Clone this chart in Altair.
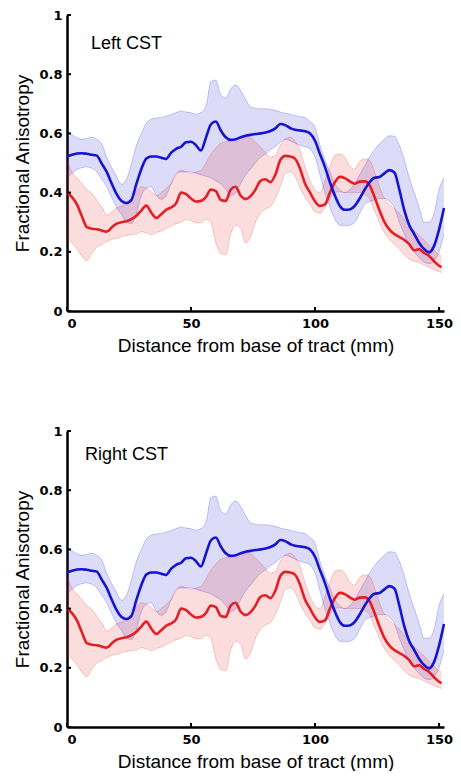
import altair as alt
import pandas as pd

# ---- data (distance in mm, FA values) ----
blue_mm = list(range(0, 153, 2))
blue_mean = [0.522, 0.528, 0.532, 0.533, 0.531, 0.528, 0.525, 0.498, 0.470, 0.431,
             0.395, 0.372, 0.365, 0.376, 0.430, 0.480, 0.515, 0.522, 0.522, 0.518,
             0.514, 0.535, 0.548, 0.555, 0.570, 0.572, 0.560, 0.542, 0.585, 0.630,
             0.640, 0.610, 0.587, 0.578, 0.580, 0.587, 0.592, 0.595, 0.598, 0.600,
             0.603, 0.608, 0.617, 0.632, 0.628, 0.618, 0.612, 0.610, 0.607, 0.600,
             0.575, 0.530, 0.487, 0.435, 0.390, 0.355, 0.342, 0.343, 0.355, 0.380,
             0.410, 0.435, 0.450, 0.453, 0.465, 0.476, 0.468, 0.410, 0.340, 0.290,
             0.260, 0.230, 0.209, 0.198, 0.220, 0.275, 0.348]
blue_hi = [0.603, 0.595, 0.585, 0.580, 0.583, 0.587, 0.580, 0.564, 0.520, 0.485,
           0.455, 0.428, 0.445, 0.498, 0.560, 0.600, 0.635, 0.648, 0.652, 0.654,
           0.658, 0.664, 0.670, 0.676, 0.672, 0.670, 0.665, 0.670, 0.690, 0.775,
           0.780, 0.730, 0.720, 0.750, 0.764, 0.745, 0.715, 0.690, 0.685, 0.683,
           0.683, 0.681, 0.678, 0.672, 0.668, 0.665, 0.660, 0.656, 0.653, 0.640,
           0.620, 0.560, 0.510, 0.470, 0.430, 0.410, 0.400, 0.410, 0.430, 0.460,
           0.490, 0.520, 0.545, 0.565, 0.580, 0.592, 0.590, 0.560, 0.510, 0.450,
           0.400, 0.350, 0.300, 0.300, 0.330, 0.410, 0.450]
blue_lo = [0.448, 0.465, 0.478, 0.484, 0.487, 0.482, 0.470, 0.445, 0.420, 0.385,
           0.350, 0.325, 0.300, 0.295, 0.330, 0.390, 0.415, 0.420, 0.390, 0.377,
           0.390, 0.430, 0.465, 0.470, 0.470, 0.470, 0.465, 0.460, 0.455, 0.450,
           0.440, 0.430, 0.410, 0.390, 0.400, 0.430, 0.460, 0.480, 0.500, 0.520,
           0.530, 0.545, 0.555, 0.570, 0.580, 0.575, 0.567, 0.560, 0.555, 0.547,
           0.520, 0.460, 0.400, 0.350, 0.310, 0.290, 0.288, 0.290, 0.300, 0.330,
           0.360, 0.370, 0.375, 0.380, 0.380, 0.370, 0.350, 0.300, 0.260, 0.220,
           0.200, 0.180, 0.165, 0.160, 0.170, 0.200, 0.260]

red_mm = list(range(0, 151, 2)) + [151]
red_mean = [0.400, 0.385, 0.360, 0.320, 0.283, 0.278, 0.276, 0.272, 0.268, 0.282,
            0.295, 0.300, 0.303, 0.310, 0.322, 0.340, 0.356, 0.332, 0.314, 0.327,
            0.342, 0.350, 0.364, 0.400, 0.395, 0.380, 0.370, 0.372, 0.385, 0.410,
            0.405, 0.375, 0.372, 0.410, 0.420, 0.390, 0.378, 0.388, 0.410, 0.440,
            0.445, 0.435, 0.460, 0.510, 0.524, 0.522, 0.514, 0.480, 0.430, 0.400,
            0.370, 0.355, 0.360, 0.400, 0.435, 0.453, 0.449, 0.438, 0.430, 0.437,
            0.438, 0.425, 0.385, 0.340, 0.300, 0.275, 0.260, 0.250, 0.240, 0.226,
            0.205, 0.209, 0.196, 0.186, 0.168, 0.153, 0.148]
red_hi = [0.510, 0.470, 0.450, 0.431, 0.410, 0.398, 0.375, 0.353, 0.325, 0.335,
          0.348, 0.355, 0.362, 0.380, 0.405, 0.420, 0.415, 0.403, 0.390, 0.400,
          0.415, 0.431, 0.460, 0.476, 0.470, 0.465, 0.470, 0.475, 0.500, 0.530,
          0.550, 0.567, 0.572, 0.576, 0.580, 0.583, 0.586, 0.585, 0.570, 0.555,
          0.535, 0.520, 0.525, 0.560, 0.581, 0.587, 0.573, 0.540, 0.487, 0.440,
          0.410, 0.400, 0.440, 0.487, 0.525, 0.530, 0.520, 0.490, 0.480, 0.505,
          0.514, 0.509, 0.470, 0.420, 0.380, 0.360, 0.345, 0.331, 0.310, 0.287,
          0.270, 0.255, 0.240, 0.222, 0.205, 0.190, 0.185]
red_lo = [0.240, 0.230, 0.210, 0.185, 0.170, 0.195, 0.215, 0.225, 0.235, 0.242,
          0.245, 0.252, 0.255, 0.258, 0.260, 0.268, 0.264, 0.258, 0.265, 0.270,
          0.278, 0.287, 0.295, 0.300, 0.310, 0.305, 0.298, 0.298, 0.310, 0.300,
          0.230, 0.195, 0.190, 0.260, 0.290, 0.280, 0.230, 0.250, 0.300, 0.330,
          0.345, 0.353, 0.380, 0.420, 0.465, 0.470, 0.453, 0.415, 0.385, 0.360,
          0.335, 0.330, 0.350, 0.380, 0.400, 0.403, 0.400, 0.400, 0.400, 0.400,
          0.395, 0.380, 0.340, 0.298, 0.265, 0.242, 0.225, 0.209, 0.190, 0.176,
          0.168, 0.164, 0.155, 0.148, 0.140, 0.133, 0.130]

y_ticks = [0, 0.2, 0.4, 0.6, 0.8, 1]
x_ticks = [0, 50, 100, 150]
panel_titles = ["Left CST", "Right CST"]

BLUE = "#1414d2"
RED = "#e41e24"
W, H = 377, 296

blue_df = pd.DataFrame({"mm": blue_mm, "mean": blue_mean, "lo": blue_lo, "hi": blue_hi})
red_df = pd.DataFrame({"mm": red_mm, "mean": red_mean, "lo": red_lo, "hi": red_hi})

xs = alt.Scale(domain=[0, 152], nice=False, zero=False)
ys = alt.Scale(domain=[0, 1], nice=False)

X = alt.X("mm:Q", scale=xs, title="Distance from base of tract (mm)",
          axis=alt.Axis(values=x_ticks, format="d"))


def Y(f):
    return alt.Y(f"{f}:Q", scale=ys, title="Fractional Anisotropy",
                 axis=alt.Axis(values=y_ticks, format="~g"))


def band(df, color):
    area = alt.Chart(df).mark_area(color=color, opacity=0.15, interpolate="monotone").encode(
        x=X, y=Y("lo"), y2="hi:Q")
    edge_lo = alt.Chart(df).mark_line(color=color, opacity=0.22, strokeWidth=1,
                                      interpolate="monotone").encode(x=X, y=Y("lo"))
    edge_hi = alt.Chart(df).mark_line(color=color, opacity=0.22, strokeWidth=1,
                                      interpolate="monotone").encode(x=X, y=Y("hi"))
    return [area, edge_lo, edge_hi]


def mean_line(df, color):
    return alt.Chart(df).mark_line(color=color, strokeWidth=2.6,
                                   interpolate="monotone").encode(x=X, y=Y("mean"))


def panel(title, tx, ty):
    yt = alt.Chart(pd.DataFrame({"v": y_ticks})).mark_rule(color="black", strokeWidth=2).encode(
        y=alt.Y("v:Q", scale=ys), x=alt.value(0), x2=alt.value(4))
    xt = alt.Chart(pd.DataFrame({"v": x_ticks})).mark_rule(color="black", strokeWidth=2).encode(
        x=alt.X("v:Q", scale=xs), y=alt.value(H), y2=alt.value(H - 4))
    label = alt.Chart(pd.DataFrame({"t": [title]})).mark_text(
        align="left", baseline="middle", font="Liberation Sans", fontSize=18, color="black"
    ).encode(text="t:N", x=alt.value(tx), y=alt.value(ty))
    layers = band(blue_df, BLUE) + band(red_df, RED) + [
        mean_line(red_df, RED), mean_line(blue_df, BLUE), yt, xt, label]
    return alt.layer(*layers).properties(width=W, height=H)


chart = alt.vconcat(
    panel(panel_titles[0], 24, 29),
    panel(panel_titles[1], 18, 24),
    spacing=70,
).properties(
    padding={"left": 5, "top": 1, "right": 0, "bottom": 0}
).configure_view(stroke=None).configure_axis(
    grid=False, ticks=False, domainColor="black", domainWidth=2.5,
    labelFont="DejaVu Sans", labelFontWeight="bold", labelFontSize=13, labelColor="black",
    labelPadding=5,
    titleFont="Liberation Sans", titleFontWeight="normal", titleFontSize=19, titleColor="black",
).configure_axisX(labelPadding=6, titlePadding=6).configure_axisY(titlePadding=6)

chart.save("out.html", embed_options={"renderer": "svg", "actions": False})
